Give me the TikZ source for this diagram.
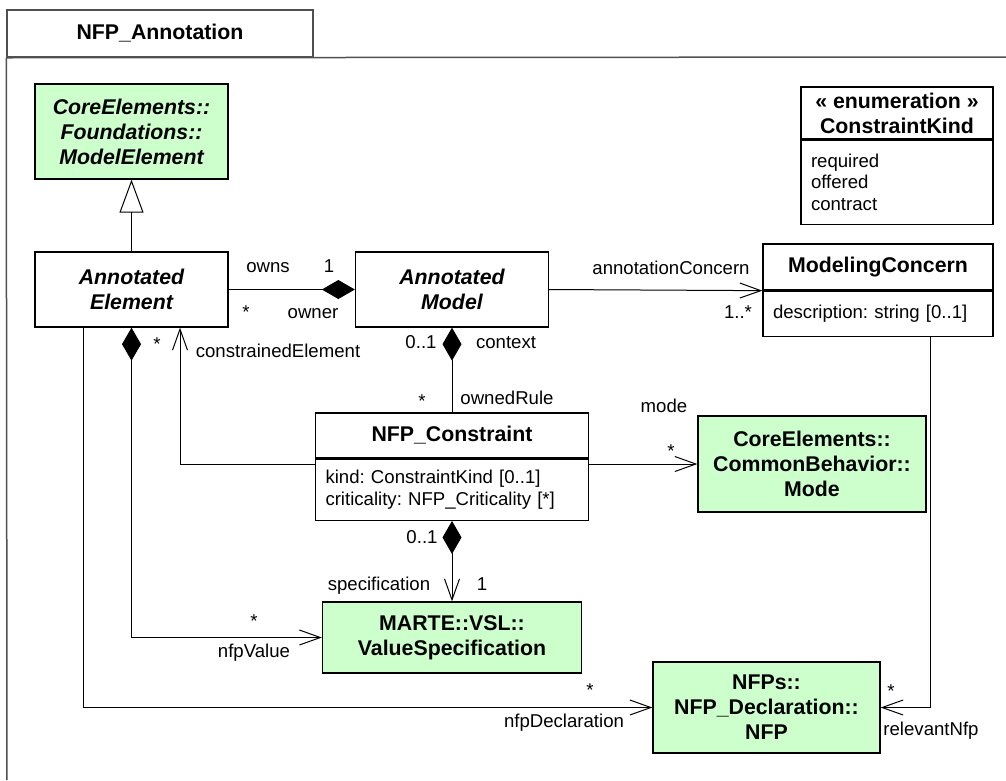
\documentclass[tikz,border=0pt]{standalone}
\usepackage{fontspec}
\setmainfont{Liberation Sans}
\usepackage{tikz}
\usetikzlibrary{positioning,arrows.meta,shapes.multipart}
\definecolor{nfpgreen}{RGB}{204,255,204}
\definecolor{framegray}{RGB}{80,80,80}
\frenchspacing
\newcommand{\lblfont}{\fontsize{18.6}{21.5}\selectfont}
\newcommand{\ttlfont}{\fontsize{21.3}{25}\selectfont\bfseries}
\tikzset{
	umlclass/.style={draw, line width=1.3pt, align=center, inner sep=0pt, font=\ttlfont},
	nfpclass/.style={umlclass, fill=nfpgreen},
	umlattr/.style={draw, line width=1.3pt, align=left, inner xsep=10pt, inner ysep=0pt, font=\lblfont},
	lbl/.style={font=\lblfont, anchor=base, inner sep=0pt},
	frameline/.style={draw=framegray, line width=1.5pt},
	assoc/.style={line width=1pt},
	navig/.style={assoc, -{Straight Barb[length=21pt,width=15pt]}},
	composite/.style={assoc, {Diamond[length=33pt,width=19pt]}-},
	compnavig/.style={assoc, {Diamond[length=33pt,width=19pt]}-{Straight Barb[length=21pt,width=15pt]}},
	generalize/.style={assoc, -{Triangle[open,length=33pt,width=24pt]}},
}

\begin{document}
\begin{tikzpicture}[x=1pt, y=-1pt]
	\useasboundingbox (0,0) rectangle (1006,780);

	% package frame
	\node[frameline, minimum width=306pt, minimum height=47pt, font=\ttlfont] (pkgTab) at (160,33.5) {NFP\_Annotation};
	\draw[frameline] (pkgTab.south west) -- (7,780);
	\draw[frameline] (pkgTab.south west) -- (1006,57);

	% classes
	\node[nfpclass, font=\ttlfont\itshape, minimum width=193pt, minimum height=95pt] (modelElem) at (131.5,131.5) {CoreElements::\\Foundations::\\ModelElement};
	\node[umlclass, font=\ttlfont\itshape, minimum width=193pt, minimum height=75pt] (annElem) at (131.5,289.5) {Annotated\\Element};
	\node[umlclass, font=\ttlfont\itshape, minimum width=193pt, minimum height=75pt] (annModel) at (452,289.5) {Annotated\\Model};

	\node[umlclass, minimum width=230pt, minimum height=46pt] (concernT) at (878,267) {ModelingConcern};
	\node[umlattr, below=0pt of concernT, text width=210pt, minimum height=45pt] (concernA) {description: string [0..1]};

	\node[umlclass, minimum width=192pt, minimum height=52pt] (enumT) at (897,113) {« enumeration »\\ConstraintKind};
	\node[umlattr, below=0pt of enumT, text width=172pt, minimum height=84pt] (enumA) {required\\offered\\contract};

	\node[umlclass, minimum width=273pt, minimum height=45pt] (constrT) at (452,435.5) {NFP\_Constraint};
	\node[umlattr, below=0pt of constrT, text width=253pt, minimum height=61pt] (constrA) {kind: ConstraintKind [0..1]\\criticality: NFP\_Criticality [*]};

	\node[nfpclass, minimum width=228pt, minimum height=96pt] (mode) at (812,464) {CoreElements::\\CommonBehavior::\\Mode};
	\node[nfpclass, minimum width=259pt, minimum height=71pt] (valSpec) at (452,637.5) {MARTE::VSL::\\ValueSpecification};
	\node[nfpclass, minimum width=227pt, minimum height=91pt] (nfp) at (766.5,707.5) {NFPs::\\NFP\_Declaration::\\NFP};

	% relations
	\draw[generalize] (annElem.north) -- (modelElem.south);
	\draw[composite] (annModel.west) -- (annElem.east);
	\draw[navig] (annModel.east) -- (concernT.south west);
	\draw[composite] (annModel.south) -- (constrT.north);
	\draw[navig] (constrA.west |- mode.west) -| ([xshift=48.5pt]annElem.south);
	\draw[navig] (constrA.east |- mode.west) -- (mode.west);
	\draw[compnavig] (constrA.south) -- (valSpec.north);
	\draw[compnavig] (annElem.south) |- (valSpec.west);
	\draw[navig] ([xshift=-48.5pt]annElem.south) |- (nfp.west);
	\draw[navig] ([xshift=52pt]concernA.south) |- (nfp.east);

	% role names and multiplicities
	\node[lbl] (ownsLbl) at (268,272) {owns};
	\node[lbl] (ownsMult) at (329,272) {1};
	\node[lbl] (ownerMult) at (246,318) {*};
	\node[lbl] (ownerLbl) at (313,318) {owner};
	\node[lbl] (constrElMult) at (157,350) {*};
	\node[lbl] (constrElLbl) at (278,357) {constrainedElement};
	\node[lbl] (ctxMult) at (421,348) {0..1};
	\node[lbl] (ctxLbl) at (506,348) {context};
	\node[lbl] (ruleMult) at (422,407) {*};
	\node[lbl] (ruleLbl) at (507,404) {ownedRule};
	\node[lbl] (modeLbl) at (664,412) {mode};
	\node[lbl] (modeMult) at (671,457) {*};
	\node[lbl] (concLbl) at (671,274) {annotationConcern};
	\node[lbl] (concMult) at (738,318) {1..*};
	\node[lbl] (specMult) at (422,543) {0..1};
	\node[lbl] (specLbl) at (379,590) {specification};
	\node[lbl] (specOne) at (482,590) {1};
	\node[lbl] (valMult) at (254,627) {*};
	\node[lbl] (valLbl) at (254,657) {nfpValue};
	\node[lbl] (declMult) at (590,696) {*};
	\node[lbl] (declLbl) at (564,727) {nfpDeclaration};
	\node[lbl] (relMult) at (891,697) {*};
	\node[lbl] (relLbl) at (931,735) {relevantNfp};
\end{tikzpicture}
\end{document}
